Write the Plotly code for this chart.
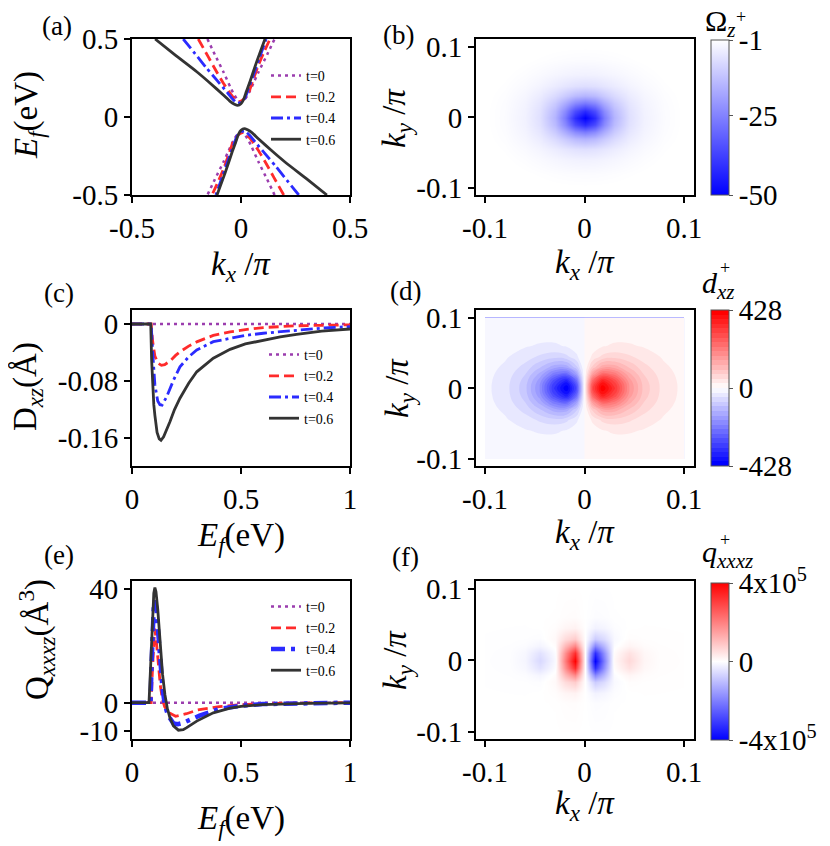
import plotly.graph_objects as go

W, H = 830, 846
OFF = 8  # the page body adds an 8 px margin around the figure
FONT = "Liberation Serif"

PURPLE = "#9B3DAE"
RED = "#FF2B2B"
BLUE = "#2B2BFF"
BLACK = "#333333"

# (a) band dispersion E_f(k_x): upper branch and lower branch for each tilt t
a_k_up_t0 = [-0.154, -0.12, -0.081, -0.05, -0.035, -0.017, 0.0, 0.017, 0.035, 0.05, 0.081, 0.12, 0.154]
a_e_up_t0 = [0.5, 0.40, 0.29, 0.195, 0.152, 0.113, 0.098, 0.113, 0.152, 0.195, 0.29, 0.40, 0.5]
a_k_lo_t0 = [0.154, 0.12, 0.081, 0.05, 0.035, 0.017, 0.0, -0.017, -0.035, -0.05, -0.081, -0.12, -0.154]
a_e_lo_t0 = [-0.5, -0.40, -0.29, -0.195, -0.152, -0.113, -0.098, -0.113, -0.152, -0.195, -0.29, -0.40, -0.5]

a_k_up_t02 = [-0.196, -0.15, -0.112, -0.08, -0.05, -0.03, -0.012, 0.01, 0.034, 0.055, 0.08, 0.105, 0.133]
a_e_up_t02 = [0.5, 0.385, 0.29, 0.215, 0.152, 0.118, 0.098, 0.112, 0.152, 0.235, 0.333, 0.415, 0.5]
a_k_lo_t02 = [0.196, 0.15, 0.112, 0.08, 0.05, 0.03, 0.012, -0.01, -0.034, -0.055, -0.08, -0.105, -0.133]
a_e_lo_t02 = [-0.5, -0.385, -0.29, -0.215, -0.152, -0.118, -0.098, -0.112, -0.152, -0.235, -0.333, -0.415, -0.5]

a_k_up_t04 = [-0.265, -0.21, -0.157, -0.11, -0.066, -0.04, -0.017, 0.0, 0.018, 0.035, 0.057, 0.085, 0.115]
a_e_up_t04 = [0.5, 0.405, 0.312, 0.235, 0.162, 0.118, 0.088, 0.095, 0.12, 0.185, 0.269, 0.38, 0.5]
a_k_lo_t04 = [0.265, 0.21, 0.157, 0.11, 0.066, 0.04, 0.017, 0.0, -0.018, -0.035, -0.057, -0.085, -0.115]
a_e_lo_t04 = [-0.5, -0.405, -0.312, -0.235, -0.162, -0.118, -0.088, -0.095, -0.12, -0.185, -0.269, -0.38, -0.5]

a_k_up_t06 = [-0.394, -0.3, -0.203, -0.14, -0.081, -0.05, -0.03, -0.015, 0.0, 0.011, 0.025, 0.041, 0.072, 0.11]
a_e_up_t06 = [0.5, 0.395, 0.29, 0.215, 0.141, 0.1, 0.082, 0.074, 0.085, 0.109, 0.165, 0.226, 0.355, 0.5]
a_k_lo_t06 = [0.394, 0.3, 0.203, 0.14, 0.081, 0.05, 0.03, 0.015, 0.0, -0.011, -0.025, -0.041, -0.072, -0.11]
a_e_lo_t06 = [-0.5, -0.395, -0.29, -0.215, -0.141, -0.1, -0.082, -0.074, -0.085, -0.109, -0.165, -0.226, -0.355, -0.5]

# (c) dipole D_xz vs E_f
c_E_t0 = [0.0, 1.0]
c_D_t0 = [0.0, 0.0]
c_E_t02 = [0.0, 0.088, 0.095, 0.105, 0.12, 0.135, 0.15, 0.174, 0.2, 0.22, 0.26, 0.297, 0.373, 0.45, 0.52, 0.602, 0.755, 0.87, 1.0]
c_D_t02 = [0.0, 0.0, -0.025, -0.045, -0.055, -0.058, -0.057, -0.052, -0.044, -0.039, -0.031, -0.025, -0.016, -0.011, -0.0078, -0.005, -0.0025, -0.0017, -0.0012]
c_E_t04 = [0.0, 0.088, 0.095, 0.105, 0.118, 0.128, 0.138, 0.159, 0.19, 0.22, 0.26, 0.297, 0.373, 0.45, 0.52, 0.602, 0.755, 0.87, 1.0]
c_D_t04 = [0.0, 0.0, -0.04, -0.085, -0.108, -0.113, -0.1136, -0.102, -0.079, -0.06, -0.046, -0.0365, -0.0248, -0.020, -0.016, -0.013, -0.0084, -0.0058, -0.0037]
c_E_t06 = [0.0, 0.086, 0.090, 0.095, 0.100, 0.105, 0.115, 0.125, 0.133, 0.145, 0.16, 0.174, 0.195, 0.22, 0.26, 0.297, 0.373, 0.45, 0.52, 0.602, 0.68, 0.755, 0.87, 1.0]
c_D_t06 = [0.0, 0.0, -0.05, -0.09, -0.113, -0.128, -0.152, -0.161, -0.163, -0.158, -0.148, -0.137, -0.12, -0.104, -0.083, -0.067, -0.048, -0.0355, -0.028, -0.0224, -0.018, -0.0145, -0.010, -0.007]

# (e) quadrupole Q_xxxz vs E_f
e_E_t0 = [0.0, 1.0]
e_Q_t0 = [0.0, 0.0]
e_E_t02 = [0.0, 0.088, 0.094, 0.099, 0.104, 0.11, 0.12, 0.13, 0.14, 0.15, 0.17, 0.2, 0.25, 0.3, 0.4, 0.5, 0.7, 1.0]
e_Q_t02 = [0.0, 0.0, 12, 22, 26, 23, 14, 6, 1, -1.5, -3.6, -4.8, -3.9, -2.6, -1.4, -0.7, -0.2, 0.0]
e_E_t04 = [0.0, 0.085, 0.09, 0.095, 0.1, 0.105, 0.112, 0.12, 0.13, 0.14, 0.15, 0.165, 0.19, 0.21, 0.235, 0.27, 0.31, 0.4, 0.5, 0.6, 0.8, 1.0]
e_Q_t04 = [0.0, 0.0, 14, 26, 34, 36, 33, 25, 14, 5, -0.5, -4.5, -7.3, -7.6, -7.1, -5.8, -4.6, -2.2, -1.1, -0.5, -0.15, 0.0]
e_E_t06 = [0.0, 0.078, 0.085, 0.092, 0.1, 0.105, 0.11, 0.118, 0.128, 0.14, 0.151, 0.162, 0.174, 0.19, 0.213, 0.235, 0.251, 0.297, 0.373, 0.45, 0.5, 0.6, 0.8, 1.0]
e_Q_t06 = [0.0, 0.0, 12, 27, 38.5, 40.5, 39, 33, 21.3, 10, 2.8, -2, -5.3, -8.2, -9.7, -9.5, -8.8, -6.5, -3.6, -1.9, -1.3, -0.7, -0.25, -0.1]

# (b) Berry curvature Omega_z^+ on the (kx, ky) grid
b_kx = [-0.1, -0.08, -0.06, -0.045, -0.03, -0.02, -0.01, 0.0, 0.01, 0.02, 0.03, 0.045, 0.06, 0.08, 0.1]
b_ky = [-0.1, -0.08, -0.06, -0.045, -0.03, -0.02, -0.01, 0.0, 0.01, 0.02, 0.03, 0.045, 0.06, 0.08, 0.1]
b_omega = [
    [-0.35, -0.46, -0.6, -0.72, -0.83, -0.88, -0.92, -0.93, -0.92, -0.88, -0.83, -0.72, -0.6, -0.46, -0.35],
    [-0.46, -0.66, -0.93, -1.18, -1.44, -1.58, -1.68, -1.72, -1.68, -1.58, -1.44, -1.18, -0.93, -0.66, -0.46],
    [-0.6, -0.93, -1.46, -2.04, -2.73, -3.17, -3.49, -3.61, -3.49, -3.17, -2.73, -2.04, -1.46, -0.93, -0.6],
    [-0.72, -1.18, -2.04, -3.12, -4.65, -5.79, -6.72, -7.09, -6.72, -5.79, -4.65, -3.12, -2.04, -1.18, -0.72],
    [-0.83, -1.44, -2.73, -4.65, -8.04, -11.1, -14.1, -15.4, -14.1, -11.1, -8.04, -4.65, -2.73, -1.44, -0.83],
    [-0.88, -1.58, -3.17, -5.79, -11.1, -16.9, -23.3, -26.4, -23.3, -16.9, -11.1, -5.79, -3.17, -1.58, -0.88],
    [-0.92, -1.68, -3.49, -6.72, -14.1, -23.3, -35.2, -41.5, -35.2, -23.3, -14.1, -6.72, -3.49, -1.68, -0.92],
    [-0.93, -1.72, -3.61, -7.09, -15.4, -26.4, -41.5, -50.0, -41.5, -26.4, -15.4, -7.09, -3.61, -1.72, -0.93],
    [-0.92, -1.68, -3.49, -6.72, -14.1, -23.3, -35.2, -41.5, -35.2, -23.3, -14.1, -6.72, -3.49, -1.68, -0.92],
    [-0.88, -1.58, -3.17, -5.79, -11.1, -16.9, -23.3, -26.4, -23.3, -16.9, -11.1, -5.79, -3.17, -1.58, -0.88],
    [-0.83, -1.44, -2.73, -4.65, -8.04, -11.1, -14.1, -15.4, -14.1, -11.1, -8.04, -4.65, -2.73, -1.44, -0.83],
    [-0.72, -1.18, -2.04, -3.12, -4.65, -5.79, -6.72, -7.09, -6.72, -5.79, -4.65, -3.12, -2.04, -1.18, -0.72],
    [-0.6, -0.93, -1.46, -2.04, -2.73, -3.17, -3.49, -3.61, -3.49, -3.17, -2.73, -2.04, -1.46, -0.93, -0.6],
    [-0.46, -0.66, -0.93, -1.18, -1.44, -1.58, -1.68, -1.72, -1.68, -1.58, -1.44, -1.18, -0.93, -0.66, -0.46],
    [-0.35, -0.46, -0.6, -0.72, -0.83, -0.88, -0.92, -0.93, -0.92, -0.88, -0.83, -0.72, -0.6, -0.46, -0.35],
]

# (d) dipole density d_xz^+ (rows listed from ky = +0.1 down to -0.1)
d_kx = [-0.1, -0.08, -0.06, -0.045, -0.03, -0.018, -0.008, 0.0, 0.008, 0.018, 0.03, 0.045, 0.06, 0.08, 0.1]
d_ky = [0.1, 0.08, 0.06, 0.045, 0.03, 0.02, 0.01, 0.0, -0.01, -0.02, -0.03, -0.045, -0.06, -0.08, -0.1]
d_dxz = [
    [-3.8, -4.82, -5.56, -5.52, -4.58, -3.1, -1.46, 0, 1.46, 3.1, 4.58, 5.52, 5.56, 4.82, 3.8],
    [-6.03, -8.52, -11.1, -12.1, -11.0, -7.85, -3.79, 0, 3.79, 7.85, 11.0, 12.1, 11.1, 8.52, 6.03],
    [-9.27, -14.8, -22.7, -28.4, -29.5, -23.0, -11.6, 0, 11.6, 23.0, 29.5, 28.4, 22.7, 14.8, 9.27],
    [-12.3, -21.6, -37.8, -54.1, -65.1, -56.4, -30.1, 0, 30.1, 56.4, 65.1, 54.1, 37.8, 21.6, 12.3],
    [-15.3, -29.3, -58.9, -97.7, -141.3, -141.8, -82.8, 0, 82.8, 141.8, 141.3, 97.7, 58.9, 29.3, 15.3],
    [-17.0, -34.1, -73.8, -133.9, -219.5, -246.5, -154.6, 0, 154.6, 246.5, 219.5, 133.9, 73.8, 34.1, 17.0],
    [-18.1, -37.5, -85.4, -165.1, -298.4, -368.5, -246.7, 0, 246.7, 368.5, 298.4, 165.1, 85.4, 37.5, 18.1],
    [-18.5, -38.7, -89.9, -177.8, -333.5, -428.0, -294.6, 0, 294.6, 428.0, 333.5, 177.8, 89.9, 38.7, 18.5],
    [-18.1, -37.5, -85.4, -165.1, -298.4, -368.5, -246.7, 0, 246.7, 368.5, 298.4, 165.1, 85.4, 37.5, 18.1],
    [-17.0, -34.1, -73.8, -133.9, -219.5, -246.5, -154.6, 0, 154.6, 246.5, 219.5, 133.9, 73.8, 34.1, 17.0],
    [-15.3, -29.3, -58.9, -97.7, -141.3, -141.8, -82.8, 0, 82.8, 141.8, 141.3, 97.7, 58.9, 29.3, 15.3],
    [-12.3, -21.6, -37.8, -54.1, -65.1, -56.4, -30.1, 0, 30.1, 56.4, 65.1, 54.1, 37.8, 21.6, 12.3],
    [-9.27, -14.8, -22.7, -28.4, -29.5, -23.0, -11.6, 0, 11.6, 23.0, 29.5, 28.4, 22.7, 14.8, 9.27],
    [-6.03, -8.52, -11.1, -12.1, -11.0, -7.85, -3.79, 0, 3.79, 7.85, 11.0, 12.1, 11.1, 8.52, 6.03],
    [-3.8, -4.82, -5.56, -5.52, -4.58, -3.1, -1.46, 0, 1.46, 3.1, 4.58, 5.52, 5.56, 4.82, 3.8],
]

# (f) quadrupole density q_xxxz^+, in units of 1e5
f_kx = [-0.1, -0.075, -0.06, -0.045, -0.03, -0.02, -0.01, 0.0, 0.01, 0.02, 0.03, 0.045, 0.06, 0.075, 0.1]
f_ky = [-0.1, -0.06, -0.045, -0.03, -0.02, -0.01, 0.0, 0.01, 0.02, 0.03, 0.045, 0.06, 0.1]
f_q = [
    [0.0, 0.003, 0.004, 0.005, 0.003, 0.01, 0.01, 0, -0.01, -0.01, -0.003, -0.005, -0.004, -0.003, 0.0],
    [-0.002, -0.003, 0.0, 0.005, 0.01, 0.04, 0.05, 0, -0.05, -0.04, -0.01, -0.005, 0.0, 0.003, 0.002],
    [-0.005, -0.008, -0.01, 0.0, 0.04, 0.15, 0.2, 0, -0.2, -0.15, -0.04, 0.0, 0.01, 0.008, 0.005],
    [-0.01, -0.015, -0.02, -0.04, 0.1, 0.55, 0.8, 0, -0.8, -0.55, -0.1, 0.04, 0.02, 0.015, 0.01],
    [-0.014, -0.025, -0.05, -0.16, 0.05, 1.1, 1.9, 0, -1.9, -1.1, -0.05, 0.16, 0.05, 0.025, 0.014],
    [-0.018, -0.035, -0.12, -0.45, -0.05, 1.7, 3.3, 0, -3.3, -1.7, 0.05, 0.45, 0.12, 0.035, 0.018],
    [-0.02, -0.04, -0.15, -0.6, -0.1, 2.0, 4.0, 0, -4.0, -2.0, 0.1, 0.6, 0.15, 0.04, 0.02],
    [-0.018, -0.035, -0.12, -0.45, -0.05, 1.7, 3.3, 0, -3.3, -1.7, 0.05, 0.45, 0.12, 0.035, 0.018],
    [-0.014, -0.025, -0.05, -0.16, 0.05, 1.1, 1.9, 0, -1.9, -1.1, -0.05, 0.16, 0.05, 0.025, 0.014],
    [-0.01, -0.015, -0.02, -0.04, 0.1, 0.55, 0.8, 0, -0.8, -0.55, -0.1, 0.04, 0.02, 0.015, 0.01],
    [-0.005, -0.008, -0.01, 0.0, 0.04, 0.15, 0.2, 0, -0.2, -0.15, -0.04, 0.0, 0.01, 0.008, 0.005],
    [-0.002, -0.003, 0.0, 0.005, 0.01, 0.04, 0.05, 0, -0.05, -0.04, -0.01, -0.005, 0.0, 0.003, 0.002],
    [0.0, 0.003, 0.004, 0.005, 0.003, 0.01, 0.01, 0, -0.01, -0.01, -0.003, -0.005, -0.004, -0.003, 0.0],
]

labels = ["t=0", "t=0.2", "t=0.4", "t=0.6"]


def fx(p):
    return (p - OFF) / W


def fy(p):
    return 1 - (p - OFF) / H


fig = go.Figure()

# line panels
styles = [
    dict(color=PURPLE, width=2.5, dash="3px,4px"),
    dict(color=RED, width=2.8, dash="10px,5px"),
    dict(color=BLUE, width=2.8, dash="12px,4px,3px,4px"),
    dict(color=BLACK, width=2.8),
]

a_x = [a_k_up_t0 + [None] + a_k_lo_t0, a_k_up_t02 + [None] + a_k_lo_t02,
       a_k_up_t04 + [None] + a_k_lo_t04, a_k_up_t06 + [None] + a_k_lo_t06]
a_y = [a_e_up_t0 + [None] + a_e_lo_t0, a_e_up_t02 + [None] + a_e_lo_t02,
       a_e_up_t04 + [None] + a_e_lo_t04, a_e_up_t06 + [None] + a_e_lo_t06]
for i in range(4):
    fig.add_trace(go.Scatter(x=a_x[i], y=a_y[i], mode="lines", name=labels[i],
                             line=dict(**styles[i], shape="spline", smoothing=0.5),
                             xaxis="x", yaxis="y", legend="legend"))

c_x = [c_E_t0, c_E_t02, c_E_t04, c_E_t06]
c_y = [c_D_t0, c_D_t02, c_D_t04, c_D_t06]
for i in range(4):
    fig.add_trace(go.Scatter(x=c_x[i], y=c_y[i], mode="lines", name=labels[i],
                             line=styles[i], xaxis="x3", yaxis="y3", legend="legend2"))

e_styles = [styles[0], styles[1], dict(color=BLUE, width=4.5, dash="14px,6px,4px,6px"), styles[3]]
e_x = [e_E_t0, e_E_t02, e_E_t04, e_E_t06]
e_y = [e_Q_t0, e_Q_t02, e_Q_t04, e_Q_t06]
for i in range(4):
    fig.add_trace(go.Scatter(x=e_x[i], y=e_y[i], mode="lines", name=labels[i],
                             line=e_styles[i], xaxis="x5", yaxis="y5", legend="legend3"))


def cbar(yc, length, vals, text):
    return dict(x=fx(711), xanchor="left", xpad=0, y=fy(yc), yanchor="middle", ypad=0,
                len=length, lenmode="pixels", thickness=18, thicknessmode="pixels",
                outlinewidth=1, outlinecolor="#555", tickvals=vals, ticktext=text,
                ticks="outside", ticklen=4, tickcolor="#555", tickwidth=1,
                tickfont=dict(family=FONT, size=29, color="black"))


bwr = [[0, "#0000FF"], [0.5, "#FFFFFF"], [1, "#FF0000"]]

fig.add_trace(go.Contour(
    x=b_kx, y=b_ky, z=b_omega, colorscale=[[0, "#0000FF"], [1, "#FFFFFF"]],
    zmin=-50, zmax=-1, zauto=False, autocontour=False,
    contours=dict(start=-49.0, end=-1.0, size=1.6, coloring="heatmap", showlines=False),
    line=dict(width=0), hoverinfo="skip",
    colorbar=cbar(117.5, 155, [-1, -25, -50], ["-1", "-25", "-50"]),
    xaxis="x2", yaxis="y2"))

fig.add_trace(go.Contour(
    x=d_kx, y=d_ky, z=d_dxz, colorscale=bwr,
    zmin=-428, zmax=428, zauto=False, autocontour=False,
    contours=dict(start=-402.8, end=402.8, size=25.175, coloring="fill", showlines=False),
    line=dict(width=0, smoothing=1.3), hoverinfo="skip",
    colorbar=cbar(388, 156, [-428, 0, 428], ["-428", "0", "428"]),
    xaxis="x4", yaxis="y4"))

fig.add_trace(go.Contour(
    x=f_kx, y=f_ky, z=f_q, colorscale=bwr,
    zmin=-4, zmax=4, zauto=False, autocontour=False,
    contours=dict(start=-3.8667, end=3.8667, size=0.13333, coloring="heatmap", showlines=False),
    line=dict(width=0), hoverinfo="skip",
    colorbar=cbar(661.5, 157, [-4, 0, 4], ["-4x10<sup>5</sup>", "0", "4x10<sup>5</sup>"]),
    xaxis="x6", yaxis="y6"))

base = dict(showline=True, linewidth=2, linecolor="black", mirror=True,
            ticks="outside", ticklen=6, tickwidth=1.5, tickcolor="black",
            showgrid=False, zeroline=False,
            tickfont=dict(family=FONT, size=29, color="black"))

col1 = [fx(132), fx(350)]
col2 = [fx(476), fx(694)]
row1 = [fy(195), fy(39)]
row2 = [fy(466), fy(310)]
row3 = [fy(739), fy(581)]

k_ticks = dict(tickvals=[-0.1, 0, 0.1], ticktext=["-0.1", "0", "0.1"])
e_ticks = dict(tickvals=[0, 0.5, 1], ticktext=["0", "0.5", "1"])

fig.update_layout(
    xaxis=dict(base, domain=col1, anchor="y", range=[-0.5, 0.5],
               tickvals=[-0.5, 0, 0.5], ticktext=["-0.5", "0", "0.5"]),
    yaxis=dict(base, domain=row1, anchor="x", range=[-0.5, 0.5],
               tickvals=[-0.5, 0, 0.5], ticktext=["-0.5", "0", "0.5"]),
    xaxis2=dict(base, domain=col2, anchor="y2", range=[-0.109, 0.11], **k_ticks),
    yaxis2=dict(base, domain=row1, anchor="x2", range=[-0.11, 0.111], **k_ticks),
    xaxis3=dict(base, domain=col1, anchor="y3", range=[0, 1], **e_ticks),
    yaxis3=dict(base, domain=row2, anchor="x3", range=[-0.199, 0.0196],
                tickvals=[-0.16, -0.08, 0], ticktext=["-0.16", "-0.08", "0"]),
    xaxis4=dict(base, domain=col2, anchor="y4", range=[-0.109, 0.11], **k_ticks),
    yaxis4=dict(base, domain=row2, anchor="x4", range=[-0.11, 0.111], **k_ticks),
    xaxis5=dict(base, domain=col1, anchor="y5", range=[0, 1], **e_ticks),
    yaxis5=dict(base, domain=row3, anchor="x5", range=[-12.8, 42.8],
                tickvals=[-10, 0, 40], ticktext=["-10", "0", "40"]),
    xaxis6=dict(base, domain=col2, anchor="y6", range=[-0.109, 0.11], **k_ticks),
    yaxis6=dict(base, domain=row3, anchor="x6", range=[-0.11, 0.111], **k_ticks),
)

leg = dict(xanchor="left", yanchor="top", bgcolor="rgba(0,0,0,0)", borderwidth=0,
           font=dict(family=FONT, size=14, color="black"), tracegroupgap=0, itemwidth=30)
fig.update_layout(
    legend=dict(leg, x=fx(266), y=fy(60)),
    legend2=dict(leg, x=fx(264), y=fy(339)),
    legend3=dict(leg, x=fx(266), y=fy(591)),
)

ann = []


def note(text, x, y, size, angle=0, xanchor="center"):
    ann.append(dict(text=text, x=fx(x), y=fy(y), xref="paper", yref="paper",
                    showarrow=False, textangle=angle, xanchor=xanchor, yanchor="middle",
                    font=dict(family=FONT, size=size, color="black")))


# panel labels
note("(a)", 57, 26, 27)
note("(b)", 398, 35, 27)
note("(c)", 59, 293, 27)
note("(d)", 405, 291, 27)
note("(e)", 59, 555, 27)
note("(f)", 405, 557, 27)

# axis titles
kx_t = "<i>k</i><sub><i>x</i></sub> /<i>π</i>"
ky_t = "<i>k</i><sub><i>y</i></sub> /<i>π</i>"
ef_t = "<i>E</i><sub><i>f</i></sub>(eV)"
note(kx_t, 241, 266, 33)
note(kx_t, 585, 264, 33)
note(kx_t, 585, 534, 33)
note(kx_t, 585, 805, 33)
note(ef_t, 241, 537, 33)
note(ef_t, 241, 820, 33)
note(ef_t, 28, 115, 33, angle=-90)
note("D<sub><i>xz</i></sub>(Å)", 28, 387, 33, angle=-90)
note("Q<sub><i>xxxz</i></sub>(Å<sup>3</sup>)", 36, 640, 33, angle=-90)
note(ky_t, 397, 118, 33, angle=-90)
note(ky_t, 399, 388, 33, angle=-90)
note(ky_t, 397, 660, 33, angle=-90)

# colorbar titles
note("Ω<sub><i>z</i></sub>", 703, 23, 30, xanchor="left")
note("+", 734, 17, 18, xanchor="left")
note("<i>d</i><sub><i>xz</i></sub>", 700, 285, 30, xanchor="left")
note("+", 718, 268, 18, xanchor="left")
note("<i>q</i><sub><i>xxxz</i></sub>", 700, 554, 30, xanchor="left")
note("+", 718, 540, 18, xanchor="left")

fig.update_layout(annotations=ann, width=W, height=H,
                  margin=dict(l=0, r=0, t=0, b=0, autoexpand=False),
                  paper_bgcolor="white", plot_bgcolor="white",
                  font=dict(family=FONT, color="black"))

fig.write_html("out.html")
